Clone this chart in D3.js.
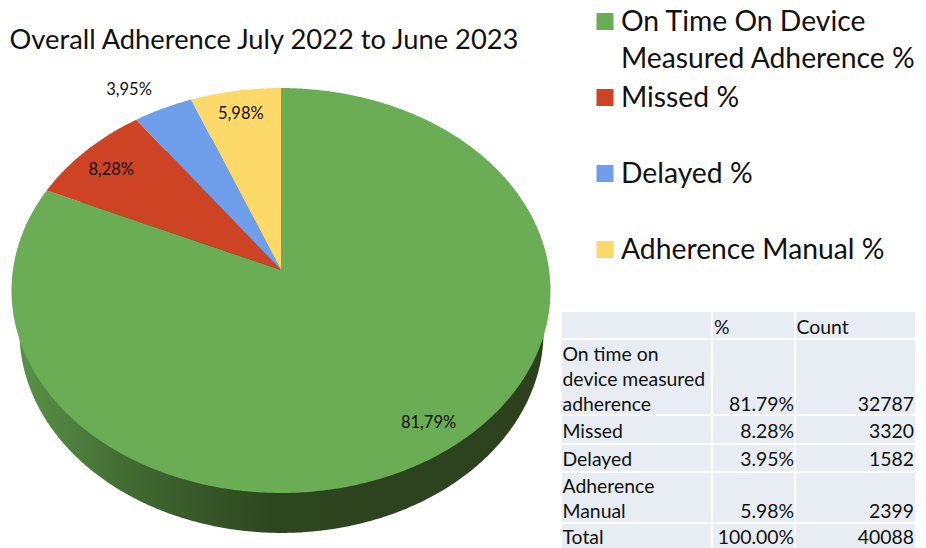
<!DOCTYPE html>
<html>
<head>
<meta charset="utf-8">
<script src="https://cdn.jsdelivr.net/npm/d3@7/dist/d3.min.js"></script>
<style>
  html, body { margin: 0; padding: 0; background: #fff; }
  svg { display: block; }
  text { font-family: Lato, "Open Sans", sans-serif; fill: #111; }
</style>
</head>
<body>
<svg id="chart" width="926" height="548"></svg>
<script>
// Shares of doses by adherence outcome
const categories = ["On Time On Device Measured Adherence %", "Missed %", "Delayed %", "Adherence Manual %"];
const shares = [81.79, 8.28, 3.95, 5.98];
const colours = ["#6aad55", "#cd4324", "#6f9fea", "#fdd96a"];

// Summary table
const tableRows = [["On time on", "device measured", "adherence"], ["Missed"], ["Delayed"], ["Adherence", "Manual"], ["Total"]];
const tablePercent = ["81.79%", "8.28%", "3.95%", "5.98%", "100.00%"];
const tableCount = ["32787", "3320", "1582", "2399", "40088"];
const tableHeader = ["", "%", "Count"];

const svg = d3.select("#chart");
const title = "Overall Adherence July 2022 to June 2023";

// Perspective view of a flat disc: points nearer the viewer spread further from the apex.
const disc = { cx: 281, cy: 270, k: 268.1, s: 200.4, p: 0.1012 };
const rim = { cx: 281.5, cy: 311.5, k: 260.7, s: 199, p: 0.1012 };
const project = (view, angle, r = 1) => {
  const u = r * Math.sin(angle), v = -r * Math.cos(angle), d = 1 - view.p * v;
  return [view.cx + view.k * u / d, view.cy + view.s * v / d];
};
const outline = d3.line();
const arcPoints = (view, a0, a1) => {
  const n = Math.max(2, Math.ceil((a1 - a0) / 0.01));
  return d3.range(n + 1).map(i => project(view, a0 + (a1 - a0) * i / n));
};

const slices = d3.pie().sort(null).startAngle(0).endAngle(2 * Math.PI)(shares);

// Shaded side wall of the disc
const wall = svg.append("defs").append("linearGradient")
  .attr("id", "wall").attr("gradientUnits", "userSpaceOnUse")
  .attr("x1", 12).attr("x2", 551).attr("y1", 0).attr("y2", 0);
[[0, "#5a9447"], [0.1, "#4f8240"], [0.22, "#416a31"], [0.36, "#365627"], [0.48, "#2e4620"], [1, "#2c401e"]]
  .forEach(([o, c]) => wall.append("stop").attr("offset", o).attr("stop-color", c));

svg.append("path")
  .attr("d", outline(arcPoints(rim, 0, 2 * Math.PI)) + "Z")
  .attr("fill", "url(#wall)");

// Top face
svg.append("g").selectAll("path").data(slices).join("path")
  .attr("d", d => outline([[disc.cx, disc.cy], ...arcPoints(disc, d.startAngle, d.endAngle)]) + "Z")
  .attr("fill", (d, i) => colours[i]);

// Value labels, comma decimals
const labelNudge = [[23, 8], [-12, -4], [-56, -49], [-3, -11]];
const comma = v => v.toFixed(2).replace(".", ",") + "%";
svg.append("g").selectAll("text").data(slices).join("text")
  .each(function (d, i) {
    const [x, y] = project(disc, (d.startAngle + d.endAngle) / 2, 0.8);
    d3.select(this).attr("x", x + labelNudge[i][0]).attr("y", y + labelNudge[i][1]);
  })
  .attr("dy", "0.35em").attr("text-anchor", "middle").attr("font-size", 16.5)
  .text(d => comma(d.data));

// Title
svg.append("text").attr("x", 9.5).attr("y", 49).attr("font-size", 27.3).text(title);

// Legend, first entry wraps onto two lines
const legendLines = [["On Time On Device", "Measured Adherence %"], [categories[1]], [categories[2]], [categories[3]]];
const legendBaseline = [31, 107, 183, 259];
const legend = svg.append("g").selectAll("g").data(categories).join("g");
legend.append("rect")
  .attr("x", 596.5).attr("width", 17).attr("height", 17)
  .attr("y", (d, i) => legendBaseline[i] - 18)
  .attr("fill", (d, i) => colours[i]);
legend.append("text")
  .attr("font-size", 28.3)
  .attr("y", (d, i) => legendBaseline[i])
  .selectAll("tspan").data((d, i) => legendLines[i]).join("tspan")
  .attr("x", 621).attr("dy", (d, i) => i ? 37 : 0).text(d => d);

// Table
const columns = [[562, 711], [713, 794], [796, 915]];
const rowBands = [[312, 338], [340, 414], [416, 443], [445, 471], [473, 522], [524, 548]];
const tableFont = 19.4;
const table = svg.append("g");
rowBands.forEach(([y0, y1]) => columns.forEach(([x0, x1]) => {
  table.append("rect").attr("x", x0).attr("y", y0).attr("width", x1 - x0).attr("height", y1 - y0).attr("fill", "#e8ecf3");
}));
table.append("text").attr("x", 714).attr("y", 334).attr("font-size", tableFont).text(tableHeader[1]);
table.append("text").attr("x", 796.5).attr("y", 334).attr("font-size", tableFont).text(tableHeader[2]);
const lastBaseline = [411, 438, 466, 518, 544];
const lineStep = 25;
tableRows.forEach((lines, r) => {
  lines.forEach((line, i) => {
    table.append("text").attr("x", 562.5)
      .attr("y", lastBaseline[r] - (lines.length - 1 - i) * lineStep)
      .attr("font-size", tableFont).text(line);
  });
  table.append("text").attr("x", 794).attr("y", lastBaseline[r]).attr("text-anchor", "end")
    .attr("font-size", tableFont).text(tablePercent[r]);
  table.append("text").attr("x", 914).attr("y", lastBaseline[r]).attr("text-anchor", "end")
    .attr("font-size", tableFont).text(tableCount[r]);
});
</script>
</body>
</html>
